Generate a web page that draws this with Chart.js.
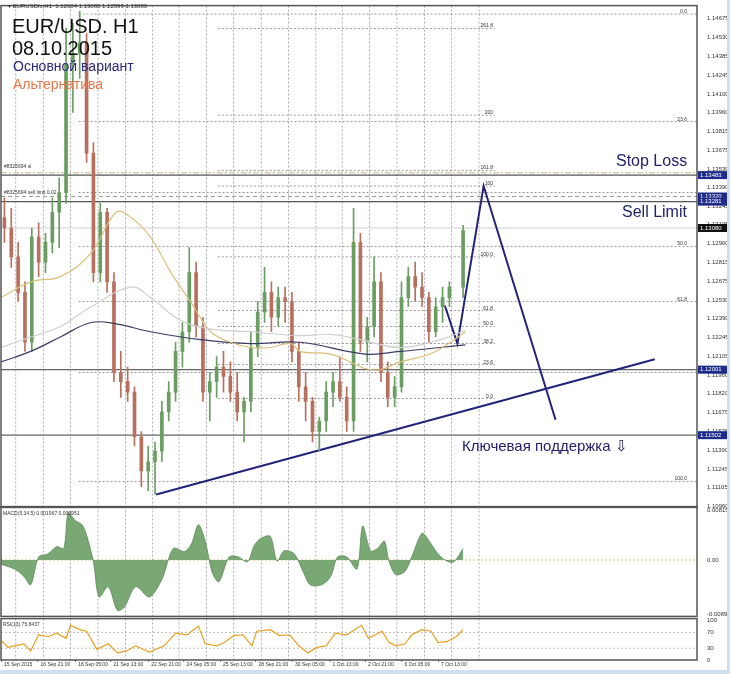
<!DOCTYPE html>
<html>
<head>
<meta charset="utf-8">
<script src="https://cdn.jsdelivr.net/npm/chart.js@4.4.1/dist/chart.umd.min.js"></script>
<style>
  body { margin: 0; background: #fff; font-family: 'Liberation Sans', Arial, sans-serif; }
  #wrap { position: relative; width: 730px; height: 674px; overflow: hidden; background: #fff; }
  canvas { position: absolute; left: 0; }
  .txt { position: absolute; white-space: nowrap; }
  #edgeR { position: absolute; left: 727px; top: 0; width: 3px; height: 674px; background: #cfdff0; }
  #edgeB { position: absolute; left: 0; top: 670px; width: 730px; height: 4px; background: #cfdff0; }
</style>
</head>
<body>
<div id="wrap">
  <canvas id="main" width="730" height="513" style="top:0"></canvas>
  <canvas id="macd" width="730" height="121" style="top:501px"></canvas>
  <canvas id="rsi" width="730" height="57" style="top:613px"></canvas>
  <div class="txt" style="left:8px;top:2px;font-size:6px;color:#333">▾ EURUSDfx,H1&nbsp; 1.12604 1.13085 1.12599 1.13080</div>
  <div class="txt" style="left:12px;top:15px;font-size:20px;color:#111;line-height:22px">EUR/USD. H1<br>08.10.2015</div>
  <div class="txt" style="left:13px;top:58px;font-size:14px;color:#2a2a7a">Основной вариант</div>
  <div class="txt" style="left:13px;top:76px;font-size:14px;color:#e8784a">Альтернатива</div>
  <div class="txt" style="left:616px;top:152px;font-size:16px;color:#22226a">Stop Loss</div>
  <div class="txt" style="left:622px;top:203px;font-size:16px;color:#22226a">Sell Limit</div>
  <div class="txt" style="left:462px;top:437px;font-size:15px;color:#22226a">Ключевая поддержка ⇩</div>
  <div class="txt" style="left:4px;top:163px;font-size:5px;color:#333">#8325694 sl</div>
  <div class="txt" style="left:4px;top:189px;font-size:5px;color:#333">#8325694 sell limit 0.02</div>
  <div class="txt" style="left:3px;top:510px;font-size:5px;color:#333">MACD(5,34,5) 0.001967 0.000951</div>
  <div class="txt" style="left:3px;top:621px;font-size:5px;color:#333">RSI(13) 75.8437</div>
  <div id="edgeR"></div>
  <div id="edgeB"></div>
</div>
<script>
// price candles, 6 hourly bars each
const candleBars = [3,9,15,21,27,33,39,45,51,57,63,69,75,81,87,93,99,105,111,117,123,129,135,141,147,153,159,165,171,177,183,189,195,201,207,213,219,225,231,237,243,249,255,261,267,273,279,285,291,297,303,309,315,321,327,333,339,345,351,357,363,369,375,381,387,393,405];
const firstOpen = 1.1316;
const closes = [1.1308,1.1286,1.1259,1.1221,1.1301,1.1282,1.1297,1.1320,1.1335,1.1433,1.1441,1.1449,1.1365,1.1274,1.1320,1.1267,1.1198,1.1191,1.1183,1.1149,1.1123,1.1130,1.1138,1.1168,1.1183,1.1214,1.1229,1.1274,1.1233,1.1183,1.1191,1.1202,1.1195,1.1183,1.1168,1.1176,1.1217,1.1244,1.1259,1.1240,1.1255,1.1252,1.1214,1.1187,1.1176,1.1153,1.1161,1.1183,1.1191,1.1179,1.1161,1.1297,1.1221,1.1233,1.1267,1.1198,1.1179,1.1187,1.1255,1.1271,1.1263,1.1255,1.1229,1.1248,1.1255,1.1263,1.1306];
const highs = [1.1331,1.1323,1.1297,1.1267,1.1308,1.1312,1.1304,1.1331,1.1346,1.1460,1.1464,1.1473,1.1456,1.1373,1.1327,1.1323,1.1274,1.1214,1.1202,1.1187,1.1153,1.1142,1.1145,1.1176,1.1191,1.1221,1.1236,1.1293,1.1282,1.1240,1.1198,1.1210,1.1214,1.1206,1.1198,1.1179,1.1229,1.1252,1.1278,1.1267,1.1263,1.1263,1.1259,1.1221,1.1198,1.1179,1.1164,1.1191,1.1198,1.1210,1.1187,1.1323,1.1304,1.1240,1.1286,1.1274,1.1206,1.1195,1.1267,1.1278,1.1282,1.1274,1.1259,1.1255,1.1263,1.1267,1.1310];
const lows = [1.1297,1.1278,1.1252,1.1214,1.1214,1.1271,1.1274,1.1289,1.1293,1.1327,1.1396,1.1422,1.1358,1.1267,1.1267,1.1259,1.1191,1.1179,1.1176,1.1142,1.1111,1.1108,1.1105,1.1130,1.1161,1.1176,1.1202,1.1221,1.1225,1.1176,1.1161,1.1179,1.1183,1.1176,1.1161,1.1145,1.1168,1.1210,1.1236,1.1229,1.1233,1.1236,1.1206,1.1176,1.1161,1.1145,1.1138,1.1153,1.1172,1.1176,1.1153,1.1153,1.1214,1.1206,1.1225,1.1191,1.1172,1.1172,1.1183,1.1248,1.1252,1.1248,1.1221,1.1225,1.1236,1.1248,1.1255];

// moving averages
const maNavyBars = [0,26,52,79,101,131,175,219,262,319,350,385,407];
const maNavy = [1.1206,1.1214,1.1225,1.1236,1.1235,1.1229,1.1223,1.1220,1.1221,1.1212,1.1214,1.1217,1.1219];
const maGreyBars = [0,26,52,79,114,131,157,184,219,262,289,315,350,385,407];
const maGrey = [1.1217,1.1225,1.1233,1.1248,1.1263,1.1255,1.1238,1.1231,1.1229,1.1226,1.1227,1.1223,1.1217,1.1223,1.1230];
const maYellowBars = [0,26,52,79,101,114,131,149,166,184,201,219,236,254,262,289,306,319,332,350,376,394,407];
const maYellow = [1.1255,1.1267,1.1271,1.1289,1.1320,1.1316,1.1301,1.1274,1.1252,1.1229,1.1221,1.1217,1.1217,1.1220,1.1214,1.1212,1.1206,1.1201,1.1200,1.1206,1.1212,1.1221,1.1229];

// forecast and trend line
const forecastBars = [389,400,423,486];
const forecast = [1.1249,1.1220,1.1340,1.1162];
const trendBars = [136,573];
const trend = [1.1105,1.1208];

// levels
const priceTicks = [1.10960,1.11105,1.11245,1.11390,1.11535,1.11675,1.11820,1.11960,1.12105,1.12245,1.12390,1.12530,1.12675,1.12815,1.12960,1.13105,1.13245,1.13390,1.13530,1.13675,1.13815,1.13960,1.14100,1.14245,1.14385,1.14530,1.14675];
const boxLevels = [1.13483,1.13320,1.13281,1.13080,1.12001,1.11502];
const bigFib = [1.1471,1.1389,1.1335,1.1294,1.1252,1.1198,1.1115];
const bigFibLabels = ['0.0','23.6','','50.0','61.8','','100.0'];
const smallFib = [1.1460,1.1394,1.1352,1.1340,1.1286,1.1245,1.1233,1.1220,1.1204,1.1178];
const smallFibLabels = ['261.8','200','161.8','100','100.0','61.8','50.0','38.2','23.6','0.0'];
const gridBars = [13,37,61,85,109,133,156,180,204,228,252,276,299,323,347,371,395,419];

// MACD histogram
const macdBars = [0,12,20,26,33,41,49,55,59,65,71,75,81,86,94,102,108,118,130,141,151,161,167,173,179,185,191,200,208,216,222,228,236,242,248,257,265,271,281,289,295,303,312,317,324,330,336,340,346,354,360,369,375,383,391,397,405];
const macd = [-0.0007,-0.0015,-0.0027,-0.0041,0.0005,0.0010,0.0022,0.0019,0.0078,0.0065,0.0058,0.0041,-0.0003,-0.0061,-0.0044,-0.0083,-0.0078,-0.0044,-0.0061,-0.0032,0.0019,0.0014,0.0027,0.0058,0.0031,-0.0020,-0.0036,0.0005,0.0005,-0.0003,0.0024,0.0036,0.0039,-0.0002,0.0015,0.0010,-0.0020,-0.0041,-0.0041,-0.0027,0.0005,0.0005,-0.0015,0.0056,0.0015,0.0019,0.0031,-0.0002,-0.0024,-0.0019,0.0005,0.0044,0.0032,0.0010,-0.0002,-0.0003,0.0019];

// RSI
const rsiBars = [0,6,12,20,26,33,41,49,57,61,69,75,84,94,102,110,118,130,143,153,163,173,179,189,196,204,212,220,224,236,244,253,261,269,277,285,293,303,316,322,334,340,346,354,360,369,377,383,391,399,405];
const rsi = [50,32,36,41,23,64,59,68,55,88,77,73,27,41,18,23,36,20,36,68,64,86,41,36,45,62,64,36,73,77,62,64,36,18,32,36,68,64,88,55,73,45,36,41,64,77,73,44,47,59,77];

const dateBars = [0,32,65,96,129,160,192,223,255,288,319,351,383];
const dateLabels = ['15 Sep 2015','16 Sep 21:00','18 Sep 05:00','21 Sep 13:00','22 Sep 21:00','24 Sep 05:00','25 Sep 13:00','28 Sep 21:00','30 Sep 05:00','1 Oct 13:00','2 Oct 21:00','6 Oct 05:00','7 Oct 13:00'];

const BAR_MAX = 610;
Chart.defaults.animation = false;
Chart.defaults.font.family = "'Liberation Sans', Arial, sans-serif";
Chart.defaults.font.size = 6;
Chart.defaults.color = '#333';

const pts = (xs, ys) => xs.map((x, i) => ({ x, y: ys[i] }));

const opens = closes.map((c, i) => i === 0 ? firstOpen : closes[i - 1]);
const up = closes.map((c, i) => c >= opens[i]);
const green = '#6a9e62', red = '#b8705e';

function xScale() {
  return { type: 'linear', min: 0, max: BAR_MAX, display: false, offset: false };
}
function yScale(min, max, ticks, fmt) {
  return {
    position: 'right', min, max,
    grid: { display: false, drawTicks: true },
    border: { display: false },
    afterFit: s => { s.width = 33; },
    afterBuildTicks: s => { s.ticks = ticks.map(v => ({ value: v })); },
    ticks: { autoSkip: false, padding: 2, font: { size: 6 }, callback: fmt }
  };
}

const frame = {
  id: 'frame',
  beforeDatasetsDraw(chart) {
    const { ctx, chartArea: a, scales: { x } } = chart;
    ctx.save();
    ctx.strokeStyle = '#777';
    ctx.lineWidth = 0.6;
    ctx.setLineDash([2, 2]);
    gridBars.forEach(b => {
      const px = x.getPixelForValue(b);
      ctx.beginPath(); ctx.moveTo(px, a.top); ctx.lineTo(px, a.bottom); ctx.stroke();
    });
    ctx.restore();
  },
  afterDraw(chart) {
    const { ctx, chartArea: a } = chart;
    ctx.save();
    ctx.strokeStyle = '#555';
    ctx.lineWidth = 1.5;
    ctx.strokeRect(a.left, a.top, a.right - a.left, a.bottom - a.top);
    ctx.restore();
  }
};

const levels = {
  id: 'levels',
  beforeDatasetsDraw(chart) {
    const { ctx, chartArea: a, scales: { x, y } } = chart;
    ctx.save();
    const hline = (p, x0, x1, col, w, dash) => {
      const py = y.getPixelForValue(p);
      ctx.strokeStyle = col; ctx.lineWidth = w; ctx.setLineDash(dash);
      ctx.beginPath(); ctx.moveTo(x0, py); ctx.lineTo(x1, py); ctx.stroke();
      return py;
    };
    ctx.font = '5px Liberation Sans';
    ctx.fillStyle = '#333';
    ctx.textAlign = 'right';
    bigFib.forEach((p, i) => {
      const py = hline(p, x.getPixelForValue(68), a.right, '#555', 0.6, [2, 2]);
      if (bigFibLabels[i]) ctx.fillText(bigFibLabels[i], a.right - 10, py - 1);
    });
    smallFib.forEach((p, i) => {
      const py = hline(p, x.getPixelForValue(190), x.getPixelForValue(433), '#555', 0.6, [2, 2]);
      ctx.fillText(smallFibLabels[i], x.getPixelForValue(433) - 2, py - 1);
    });
    hline(1.13500, a.left, a.right, '#c8b48a', 1, [6, 2, 2, 2]);
    hline(boxLevels[0], a.left, a.right, '#555', 1.2, []);
    hline(boxLevels[1], a.left, a.right, '#999', 1, [4, 3]);
    hline(boxLevels[2], a.left, a.right, '#555', 1.2, []);
    hline(boxLevels[3], a.left, a.right, '#ccc', 1, []);
    hline(boxLevels[4], a.left, a.right, '#666', 1.2, []);
    hline(boxLevels[5], a.left, a.right, '#666', 1.2, []);
    ctx.restore();
  },
  afterDraw(chart) {
    const { ctx, chartArea: a, scales: { y } } = chart;
    ctx.save();
    ctx.font = '6px Liberation Sans';
    ctx.textBaseline = 'middle';
    ctx.textAlign = 'left';
    boxLevels.forEach((p, i) => {
      const py = y.getPixelForValue(p);
      ctx.fillStyle = i === 3 ? '#111' : '#1e2a8a';
      ctx.fillRect(a.right + 1, py - 4, 31, 8);
      ctx.fillStyle = '#fff';
      ctx.fillText(p.toFixed(5), a.right + 3, py);
    });
    ctx.restore();
  }
};

new Chart(document.getElementById('main'), {
  data: {
    datasets: [
      { type: 'line', data: pts(maGreyBars, maGrey), borderColor: '#cfcfcf', borderWidth: 1.2, pointRadius: 0, tension: 0.4 },
      { type: 'line', data: pts(maYellowBars, maYellow), borderColor: '#dcc07a', borderWidth: 1.2, pointRadius: 0, tension: 0.4 },
      { type: 'line', data: pts(maNavyBars, maNavy), borderColor: '#3a3a66', borderWidth: 1.2, pointRadius: 0, tension: 0.4 },
      { type: 'bar', data: candleBars.map((b, i) => ({ x: b, y: [lows[i], highs[i]] })),
        backgroundColor: up.map(u => u ? green : red), barThickness: 1, grouped: false },
      { type: 'bar', data: candleBars.map((b, i) => ({ x: b, y: [opens[i], closes[i]] })),
        backgroundColor: up.map(u => u ? green : red), barThickness: 3, grouped: false, minBarLength: 1 },
      { type: 'line', data: pts(trendBars, trend), borderColor: '#23237a', borderWidth: 2, pointRadius: 0 },
      { type: 'line', data: pts(forecastBars, forecast), borderColor: '#23237a', borderWidth: 2, pointRadius: 0 }
    ]
  },
  options: {
    responsive: false,
    layout: { padding: { top: 2, bottom: 1, left: 1, right: 0 } },
    plugins: { legend: { display: false }, tooltip: { enabled: false } },
    scales: {
      x: xScale(),
      y: yScale(1.10952, 1.14774, priceTicks, v => v.toFixed(5))
    }
  },
  plugins: [frame, levels]
});

const zeroLine = {
  id: 'zeroLine',
  beforeDatasetsDraw(chart) {
    const { ctx, chartArea: a, scales: { y } } = chart;
    ctx.save();
    const py = y.getPixelForValue(0);
    ctx.strokeStyle = '#d8a060'; ctx.lineWidth = 0.8; ctx.setLineDash([2, 2]);
    ctx.beginPath(); ctx.moveTo(a.left, py); ctx.lineTo(a.right, py); ctx.stroke();
    ctx.restore();
  }
};

new Chart(document.getElementById('macd'), {
  data: {
    datasets: [
      { type: 'line', data: pts(macdBars, macd), borderColor: '#5c8a58', borderWidth: 0.8,
        backgroundColor: '#7aa874', fill: 'origin', pointRadius: 0, tension: 0.3 }
    ]
  },
  options: {
    responsive: false,
    layout: { padding: { top: 1, bottom: 1, left: 1, right: 0 } },
    plugins: { legend: { display: false }, tooltip: { enabled: false } },
    scales: {
      x: xScale(),
      y: yScale(-0.0093, 0.0088, [-0.00890, 0, 0.008157],
        v => v === 0 ? '0.00' : (v > 0 ? '0.008157' : '-0.00890'))
    }
  },
  plugins: [frame, zeroLine]
});

const rsiLines = {
  id: 'rsiLines',
  beforeDatasetsDraw(chart) {
    const { ctx, chartArea: a, scales: { y } } = chart;
    ctx.save();
    ctx.strokeStyle = '#999'; ctx.lineWidth = 0.6; ctx.setLineDash([2, 2]);
    [30, 70].forEach(v => {
      const py = y.getPixelForValue(v);
      ctx.beginPath(); ctx.moveTo(a.left, py); ctx.lineTo(a.right, py); ctx.stroke();
    });
    ctx.restore();
  },
  afterDraw(chart) {
    // date labels under the bottom panel, left edge at the bar
    const { ctx, chartArea: a, scales: { x } } = chart;
    ctx.save();
    ctx.font = '5px Liberation Sans';
    ctx.fillStyle = '#333';
    ctx.textAlign = 'left';
    ctx.textBaseline = 'top';
    dateBars.forEach((b, i) => {
      const px = x.getPixelForValue(b);
      ctx.fillRect(px, a.bottom, 0.6, 2);
      ctx.fillText(dateLabels[i], px + 3, a.bottom + 2);
    });
    ctx.restore();
  }
};

new Chart(document.getElementById('rsi'), {
  data: {
    datasets: [
      { type: 'line', data: pts(rsiBars, rsi), borderColor: '#e8a020', borderWidth: 1.2, pointRadius: 0 }
    ]
  },
  options: {
    responsive: false,
    layout: { padding: { top: 3, bottom: 10, left: 1, right: 0 } },
    plugins: { legend: { display: false }, tooltip: { enabled: false } },
    scales: {
      x: xScale(),
      y: yScale(0, 105, [0, 30, 70, 100], v => String(v))
    }
  },
  plugins: [frame, rsiLines]
});
</script>
</body>
</html>
